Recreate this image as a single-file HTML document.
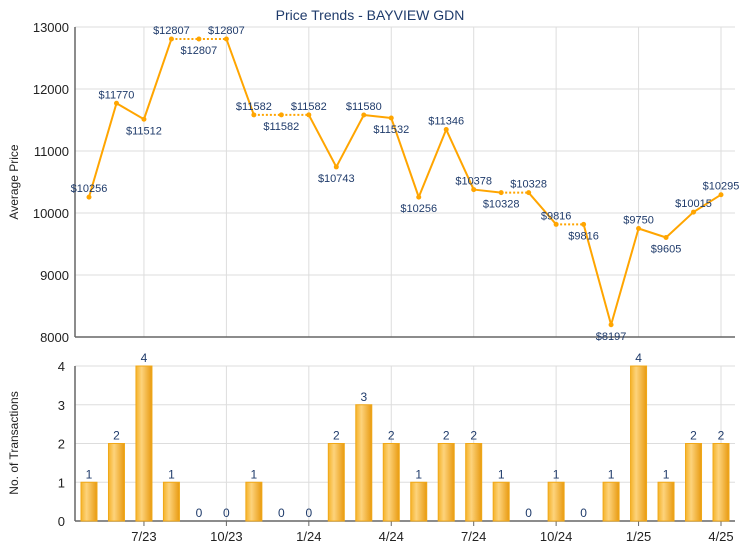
<!DOCTYPE html>
<html><head><meta charset="utf-8"><style>
body{margin:0;background:#fff;font-family:"Liberation Sans",Arial,sans-serif}
svg text{font-family:"Liberation Sans",Arial,sans-serif}
</style></head><body>
<svg id="c" width="740" height="550" xmlns="http://www.w3.org/2000/svg">
<defs>
<linearGradient id="bg" x1="0" x2="1" y1="0" y2="0">
<stop offset="0" stop-color="#f5b32a"/><stop offset="0.35" stop-color="#fdd37c"/><stop offset="1" stop-color="#e89a10"/>
</linearGradient>
</defs>
<text x="370" y="20" text-anchor="middle" font-size="14" fill="#1f3b6b">Price Trends - BAYVIEW GDN</text>
<text transform="translate(18,182) rotate(-90)" text-anchor="middle" font-size="12" fill="#222">Average Price</text>
<text transform="translate(18,443) rotate(-90)" text-anchor="middle" font-size="12" fill="#222">No. of Transactions</text>
<g id="g"></g>
</svg>
<script>
const months=["5/23","6/23","7/23","8/23","9/23","10/23","11/23","12/23","1/24","2/24","3/24","4/24","5/24","6/24","7/24","8/24","9/24","10/24","11/24","12/24","1/25","2/25","3/25","4/25"];
const prices=[10256,11770,11512,12807,12807,12807,11582,11582,11582,10743,11580,11532,10256,11346,10378,10328,10328,9816,9816,8197,9750,9605,10015,10295];
const counts=[1,2,4,1,0,0,1,0,0,2,3,2,1,2,2,1,0,1,0,1,4,1,2,2];
const priceTicks=[8000,9000,10000,11000,12000,13000];
const countTicks=[0,1,2,3,4];
const xTickIdx=[2,5,8,11,14,17,20,23];
// label placement (layout): 1 = above point, 0 = below
const labelAbove=[1,1,0,1,0,1,1,0,1,0,1,0,0,1,1,0,1,1,0,0,1,0,1,1];
const NS="http://www.w3.org/2000/svg";
const g=document.getElementById('g');
const L=75,R=735;
const x=i=>89+i*(721-89)/(months.length-1);
const yP=v=>337-(v-8000)*(310/5000);
const yC=v=>521-v*(155/4);
function mk(t,a,txt){const e=document.createElementNS(NS,t);for(const k in a)e.setAttribute(k,a[k]);if(txt!=null)e.textContent=txt;g.appendChild(e);return e;}
priceTicks.forEach(v=>{
 const l=mk('line',{x1:L,x2:R,y1:yP(v),y2:yP(v),stroke:'#ddd'});
 
 
 const t=mk('text',{x:L-6,y:yP(v)+5,'text-anchor':'end','font-size':13,fill:'#222'},v);
 
 
});
countTicks.forEach(v=>{
 const l=mk('line',{x1:L,x2:R,y1:yC(v),y2:yC(v),stroke:'#ddd'});
 
 
 const t=mk('text',{x:L-10,y:yC(v)+5,'text-anchor':'end','font-size':13,fill:'#222'},v);
 
 
});
xTickIdx.forEach(i=>{
 const a=mk('line',{x1:x(i),x2:x(i),y1:yP(13000),y2:yP(8000),stroke:'#ddd'});
 
 
 const b=mk('line',{x1:x(i),x2:x(i),y1:yC(4),y2:yC(0),stroke:'#ddd'});
 
 
 const k=mk('line',{x1:x(i),x2:x(i),y1:yC(0),y2:yC(0)+5,stroke:'#666'});
 
 
 const t=mk('text',{x:x(i),y:yC(0)+20,'text-anchor':'middle','font-size':13,fill:'#222'},months[i]);
 
 
});
[[L,yP(13000),L,yP(8000)],[L,yP(8000),R,yP(8000)],[L,yC(4),L,yC(0)],[L,yC(0),R,yC(0)]].forEach(c=>{
 const l=mk('line',{x1:c[0],y1:c[1],x2:c[2],y2:c[3],stroke:'#666','stroke-width':1.5});
 
 
});
counts.forEach((v,i)=>{
 if(v>0){const b=mk('rect',{x:x(i)-8,y:yC(v),width:16,height:yC(0)-yC(v),fill:'url(#bg)',stroke:'#f0a818','stroke-width':1});
 
 }
 const t=mk('text',{x:x(i),y:yC(v)-4,'text-anchor':'middle','font-size':12,fill:'#1f3b6b'},v);
 
 
});
for(let i=1;i<prices.length;i++){
 const a={x1:x(i-1),y1:yP(prices[i-1]),x2:x(i),y2:yP(prices[i]),stroke:'#ffa500','stroke-width':2};
 if(prices[i]===prices[i-1])a['stroke-dasharray']='2,2';
 const l=mk('line',a);
 
 
}
prices.forEach((v,i)=>{
 const p=mk('circle',{cx:x(i),cy:yP(v),r:2.5,fill:'#ffa500'});
 
 
 const above=labelAbove[i]!==0;
 const t=mk('text',{x:x(i),y:above?yP(v)-5:yP(v)+15,'text-anchor':'middle','font-size':11,fill:'#1f3b6b'},'$'+v);
 
 
});
</script>
</body></html>
